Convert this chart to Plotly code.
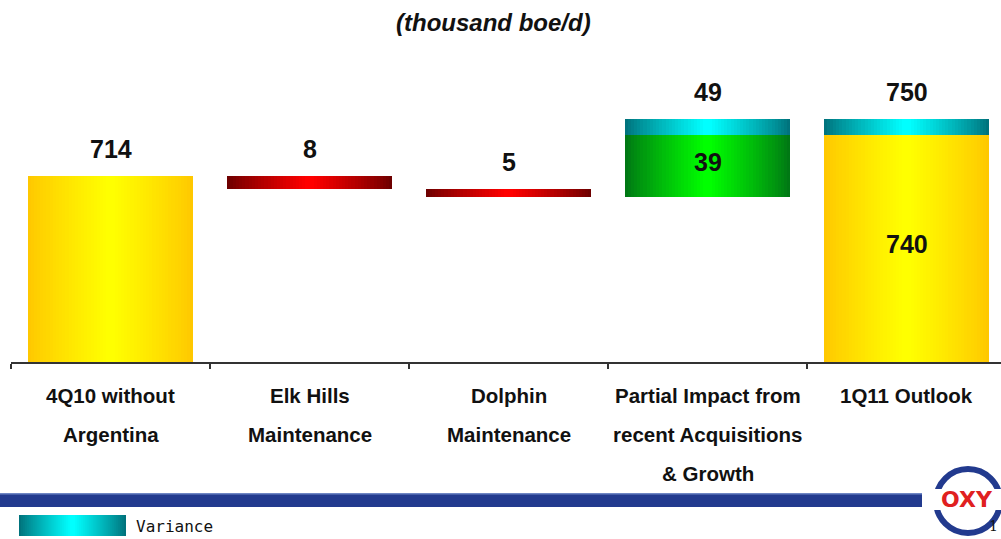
import plotly.graph_objects as go

# ---- data -------------------------------------------------------------
categories = [
    "4Q10 without\nArgentina",
    "Elk Hills\nMaintenance",
    "Dolphin\nMaintenance",
    "Partial Impact from\nrecent Acquisitions\n& Growth",
    "1Q11 Outlook",
]
step_kind = ["total", "delta", "delta", "delta", "total"]
step_values = [714, -8, -5, 39, 740]      # thousand boe/d
variance_values = [0, 0, 0, 10, 10]
axis_floor = 598                           # value axis starts here
unit_title = "(thousand boe/d)"
legend_label = "Variance"

# ---- styling ----------------------------------------------------------
SANS = "Liberation Sans, Arial, sans-serif"
BAR_WIDTH = 0.834
LAYERS = 26
GRADIENTS = {
    "total": ((255, 200, 0), (255, 255, 0)),
    "down": ((110, 0, 0), (255, 0, 0)),
    "up": ((0, 120, 20), (0, 255, 0)),
    "variance": ((0, 115, 125), (0, 255, 255)),
}

W, H = 1001, 539
PLOT_L, PLOT_R, PLOT_T, PLOT_B = 11, 1001, 40, 362
PX_PER_UNIT = 1.6
y_top = axis_floor + (PLOT_B - PLOT_T) / PX_PER_UNIT


def mix(c0, c1, t):
    return "rgb({},{},{})".format(*[round(a + (b - a) * t) for a, b in zip(c0, c1)])


def px_x(px):
    return (px - PLOT_L) / (PLOT_R - PLOT_L)


def px_y(py):
    return (PLOT_B - py) / (PLOT_B - PLOT_T)


# ---- build waterfall segments from the step values --------------------
segments = []        # (x, base, height, gradient key)
top_labels = []      # (x, top, text)
inner_labels = []    # (x, mid, text)
running = 0
for i, (kind, val, var) in enumerate(zip(step_kind, step_values, variance_values)):
    if kind == "total":
        base, top, key = 0, val, "total"
        running = val
    elif val < 0:
        base, top, key = running + val, running, "down"
        running += val
    else:
        base, top, key = running, running + val, "up"
        running += val
    segments.append((i, base, top - base, key))
    if var:
        segments.append((i, top, var, "variance"))
        lo = max(base, axis_floor)
        inner_labels.append((i, (lo + top) / 2, str(abs(val))))
    shown = (val if kind == "total" else abs(val)) + var
    top_labels.append((i, top + var, str(shown)))

fig = go.Figure()

# each bar is painted as nested layers to give a horizontal shading
for x, base, height, key in segments:
    edge, centre = GRADIENTS[key]
    for k in range(LAYERS):
        t = k / (LAYERS - 1)
        fig.add_trace(go.Bar(
            x=[x], y=[height], base=[base],
            width=BAR_WIDTH * (1 - 0.95 * t),
            marker=dict(color=mix(edge, centre, t ** 0.9), line=dict(width=0)),
            hoverinfo="skip", showlegend=False,
        ))

annotations = []
for x, top, text in top_labels:
    annotations.append(dict(
        x=x, y=top, xref="x", yref="y", text=f"<b>{text}</b>", showarrow=False,
        xanchor="center", yanchor="middle", yshift=27,
        font=dict(family=SANS, size=25, color="#111"),
    ))
for x, mid, text in inner_labels:
    annotations.append(dict(
        x=x, y=mid, xref="x", yref="y", text=f"<b>{text}</b>", showarrow=False,
        xanchor="center", yanchor="middle", yshift=4,
        font=dict(family=SANS, size=25, color="#111"),
    ))

# category labels, one annotation per line for wider line spacing
for i, cat in enumerate(categories):
    for j, line in enumerate(cat.split("\n")):
        annotations.append(dict(
            x=i, y=0, xref="x", yref="paper", text=f"<b>{line}</b>", showarrow=False,
            xanchor="center", yanchor="middle", yshift=-(33 + 39 * j),
            font=dict(family=SANS, size=20.5, color="#111"),
        ))

annotations.append(dict(
    x=px_x(493), y=px_y(22), xref="paper", yref="paper",
    xanchor="center", yanchor="middle",
    text=f"<b><i>{unit_title}</i></b>", showarrow=False,
    font=dict(family=SANS, size=24, color="#111"),
))
annotations.append(dict(
    x=px_x(134), y=px_y(526), xref="paper", yref="paper",
    xanchor="left", yanchor="middle",
    text=legend_label, showarrow=False,
    font=dict(family="DejaVu Sans Mono", size=16, color="#111"),
))
annotations.append(dict(
    x=px_x(967), y=px_y(499), xref="paper", yref="paper",
    xanchor="center", yanchor="middle",
    text="<b>OXY</b>", showarrow=False,
    font=dict(family="DejaVu Sans", size=22, color="#E02020"),
))
annotations.append(dict(
    x=px_x(1000), y=px_y(526), xref="paper", yref="paper",
    xanchor="right", yanchor="middle",
    text="1", showarrow=False,
    font=dict(family="DejaVu Serif", size=14, color="#111"),
))

shapes = []
# navy footer band
shapes.append(dict(type="rect", xref="paper", yref="paper",
                   x0=px_x(0), x1=px_x(922), y0=px_y(493), y1=px_y(507),
                   fillcolor="#223A8E", line=dict(width=0), layer="above"))
shapes.append(dict(type="rect", xref="paper", yref="paper",
                   x0=px_x(0), x1=px_x(922), y0=px_y(493), y1=px_y(494.5),
                   fillcolor="#6F86C4", line=dict(width=0), layer="above"))
# legend swatch with the same shading as the variance bars
L0, L1 = 19, 126
edge, centre = GRADIENTS["variance"]
for k in range(LAYERS):
    t = k / (LAYERS - 1)
    half = (L1 - L0) / 2 * (1 - 0.95 * t)
    mid = (L0 + L1) / 2
    shapes.append(dict(type="rect", xref="paper", yref="paper",
                       x0=px_x(mid - half), x1=px_x(mid + half),
                       y0=px_y(515), y1=px_y(536),
                       fillcolor=mix(edge, centre, t ** 0.9), line=dict(width=0),
                       layer="above"))
# logo ring
shapes.append(dict(type="circle", xref="paper", yref="paper",
                   x0=px_x(936), x1=px_x(1000), y0=px_y(469), y1=px_y(533),
                   line=dict(color="#223A8E", width=6), layer="above"))
shapes.append(dict(type="rect", xref="paper", yref="paper",
                   x0=px_x(928), x1=px_x(1001), y0=px_y(489), y1=px_y(510),
                   fillcolor="white", line=dict(width=0), layer="above"))

fig.update_layout(
    width=W, height=H,
    margin=dict(l=PLOT_L, r=W - PLOT_R, t=PLOT_T, b=H - PLOT_B),
    paper_bgcolor="white", plot_bgcolor="white",
    barmode="overlay", bargap=0,
    showlegend=False,
    xaxis=dict(
        range=[-0.5, -0.5 + (PLOT_R - PLOT_L) / 199],
        tickvals=[-0.5, 0.5, 1.5, 2.5, 3.5],
        showticklabels=False, ticks="outside", ticklen=5, tickwidth=2,
        tickcolor="#333", showline=True, linecolor="#333", linewidth=2,
        showgrid=False, zeroline=False, fixedrange=True,
    ),
    yaxis=dict(range=[axis_floor, y_top], visible=False, fixedrange=True),
    annotations=annotations,
    shapes=shapes,
)

fig.write_html("out.html")
